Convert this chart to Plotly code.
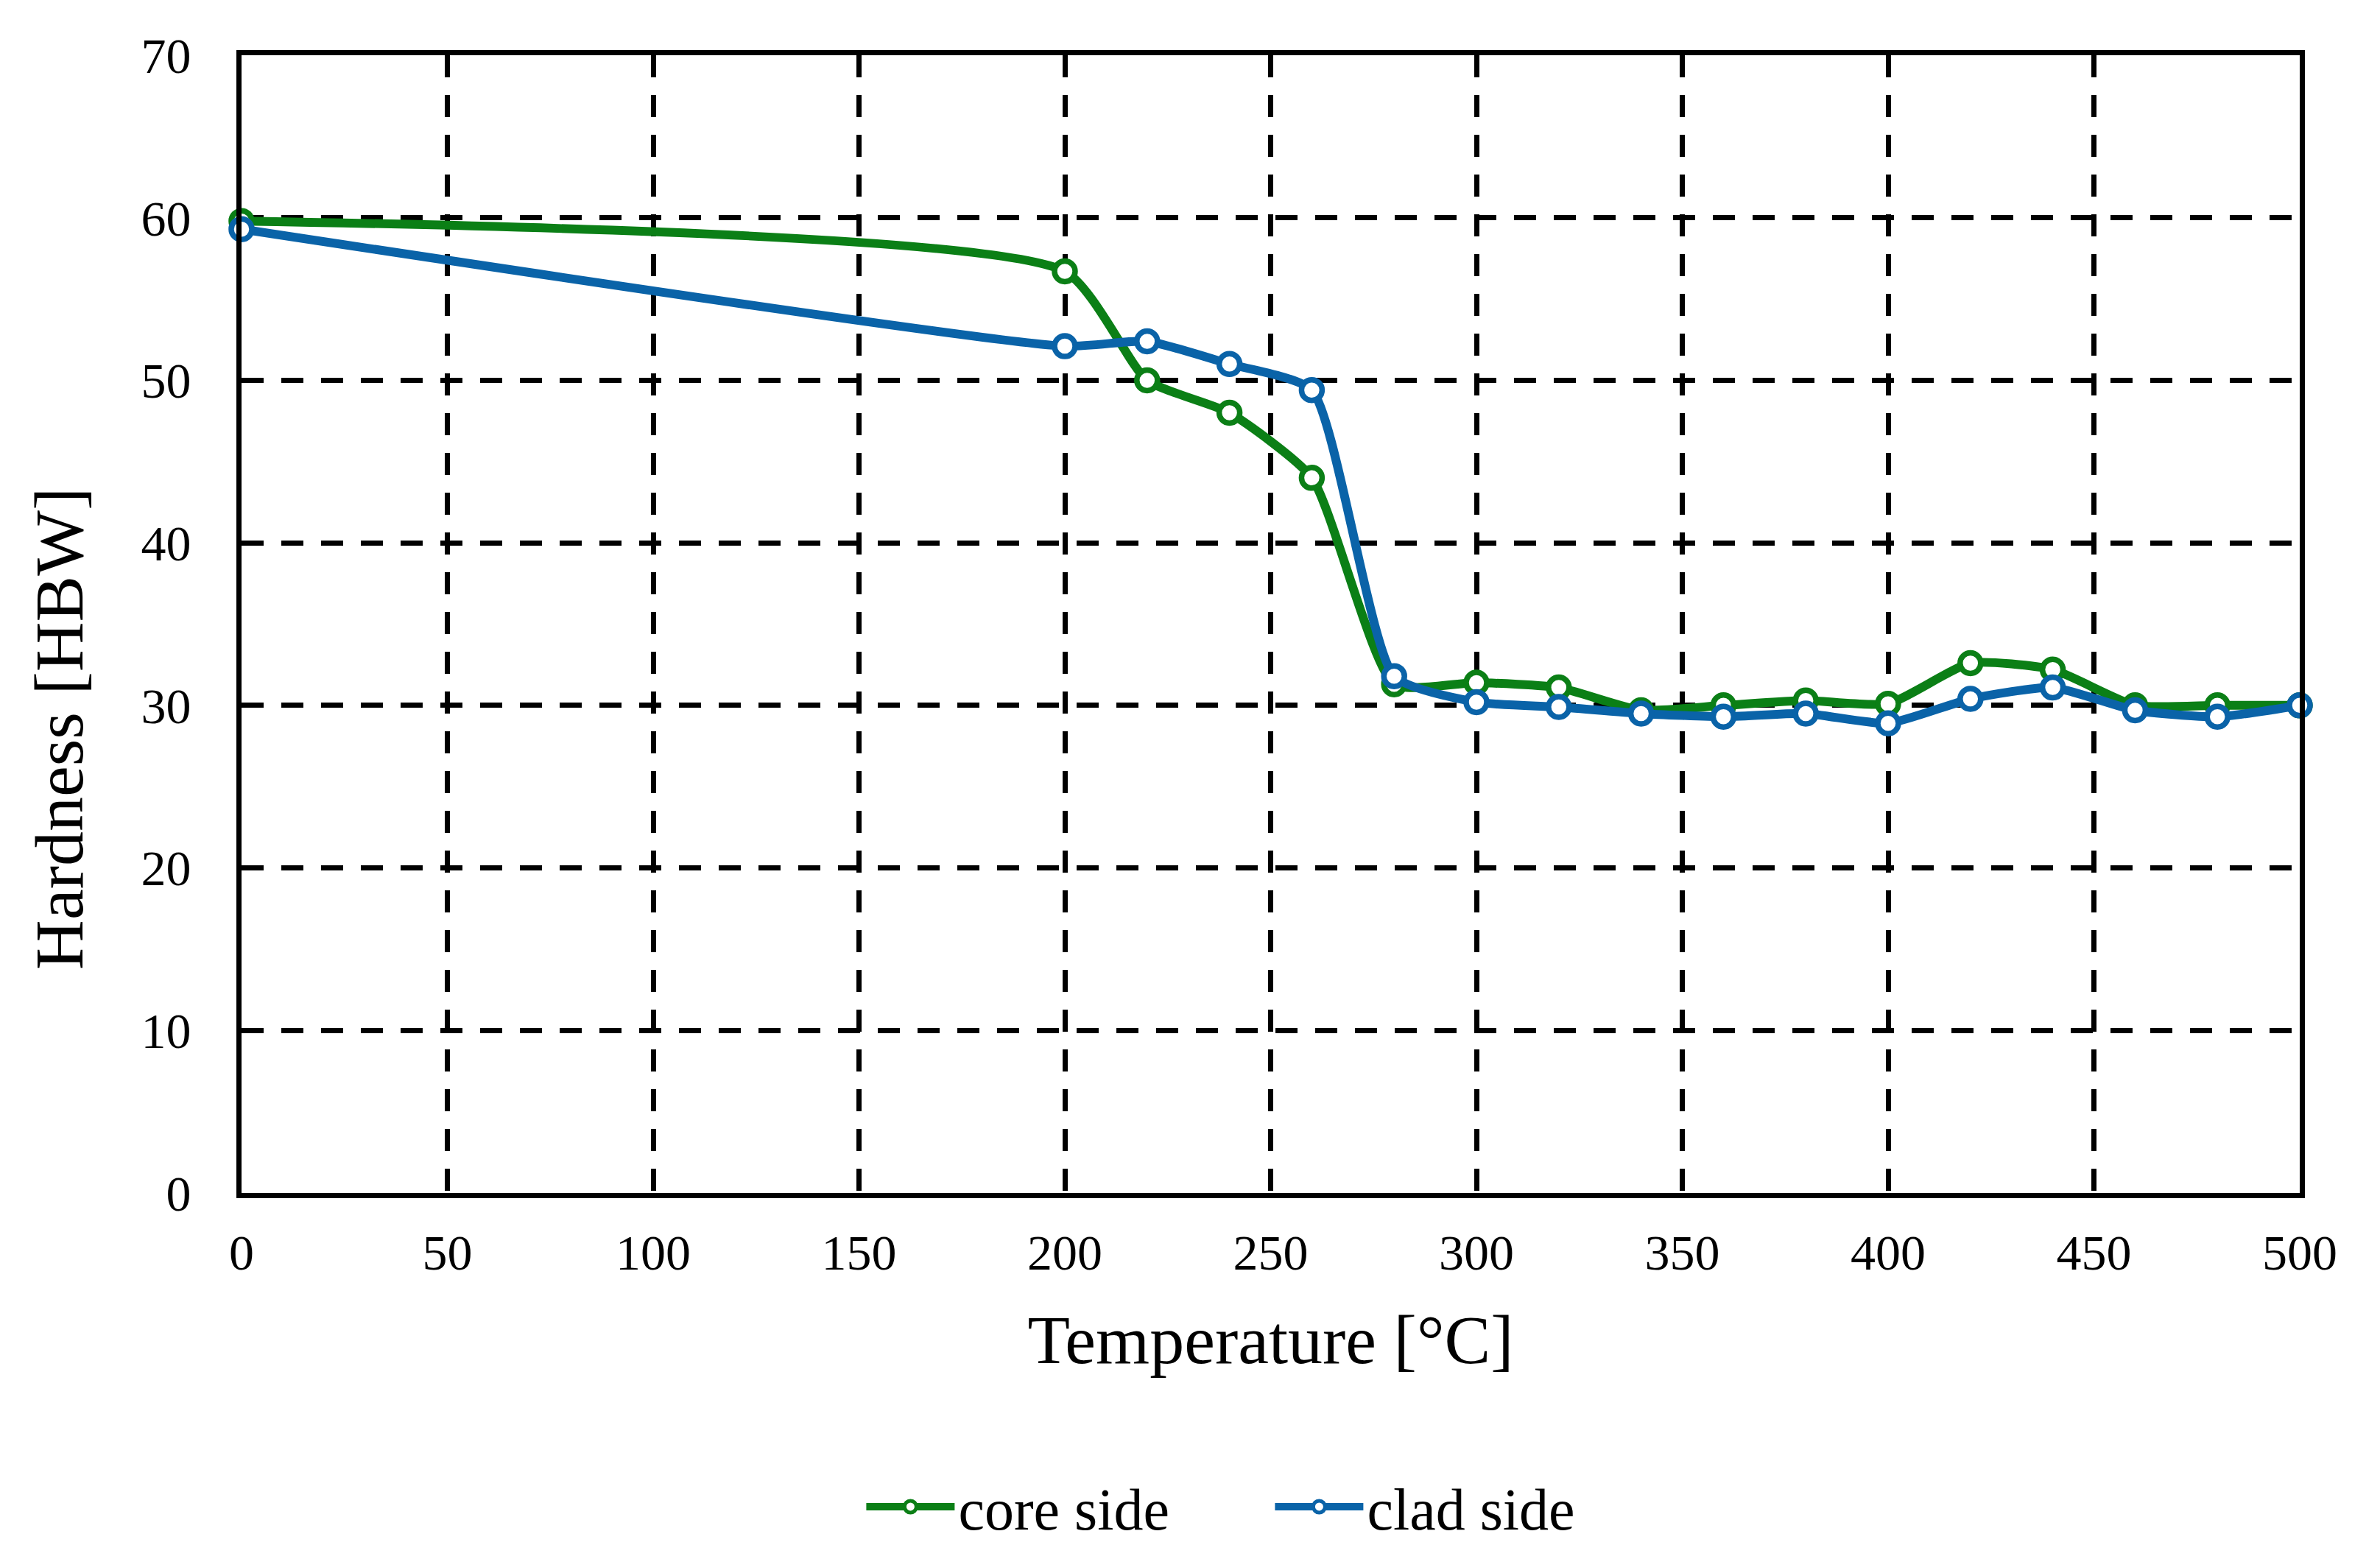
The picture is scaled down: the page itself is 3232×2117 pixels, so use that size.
import plotly.graph_objects as go

# temperature steps [°C]
temperature = [0, 200, 220, 240, 260, 280, 300, 320, 340, 360, 380, 400, 420, 440, 460, 480, 500]

# hardness [HBW]
core_side = [59.8, 56.7, 50.0, 48.0, 44.0, 31.3, 31.4, 31.1, 29.7, 30.0, 30.3, 30.1, 32.6, 32.2, 30.0, 30.0, 30.0]
clad_side = [59.3, 52.1, 52.4, 51.0, 49.4, 31.8, 30.2, 29.9, 29.5, 29.3, 29.5, 28.9, 30.4, 31.1, 29.7, 29.3, 30.0]

x_ticks = [0, 50, 100, 150, 200, 250, 300, 350, 400, 450, 500]
y_ticks = [0, 10, 20, 30, 40, 50, 60, 70]

GREEN = "#0B7F16"
BLUE = "#0A63A8"
FONT = "Liberation Serif"

fig = go.Figure()
for name, vals, col in [("core side", core_side, GREEN), ("clad side", clad_side, BLUE)]:
    fig.add_trace(go.Scatter(
        x=temperature, y=vals, name=name,
        mode="lines+markers",
        line=dict(color=col, width=12, shape="spline", smoothing=0.55),
        marker=dict(symbol="circle", size=28, color="white", line=dict(color=col, width=7.5)),
        cliponaxis=False,
    ))

axis_common = dict(
    showline=True, linecolor="black", linewidth=7, mirror=True,
    showgrid=True, gridcolor="black", gridwidth=6.5, griddash="30px,24px",
    zeroline=False, ticks="",
    tickfont=dict(family=FONT, size=68, color="black"),
)

fig.update_xaxes(
    range=[0, 500], tickvals=x_ticks,
    ticklabelstandoff=15,
    title=dict(text="Temperature [°C]", font=dict(family=FONT, size=94, color="black"), standoff=50),
    **axis_common,
)
fig.update_yaxes(
    range=[0, 70], tickvals=y_ticks,
    ticklabelstandoff=48,
    **axis_common,
)

# y title sits a bit below the middle of the axis in the original
fig.add_annotation(
    text="Hardness [HBW]", textangle=-90,
    xref="paper", yref="paper", x=-0.089, y=0.408,
    xanchor="center", yanchor="middle", showarrow=False,
    font=dict(family=FONT, size=94, color="black"),
)

# page body adds an 8px margin, so the figure is a bit smaller than the window
fig.update_layout(
    width=3224, height=2101,
    margin=dict(l=320, r=109, t=67, b=489, autoexpand=False),
    paper_bgcolor="white", plot_bgcolor="white",
    showlegend=True,
    legend=dict(
        orientation="h", xref="container", yref="container",
        x=0.533, y=0.03, xanchor="center", yanchor="middle",
        font=dict(family=FONT, size=80, color="black"),
        itemwidth=120, entrywidth=420, tracegroupgap=0,
    ),
)

fig.write_html("out.html")
